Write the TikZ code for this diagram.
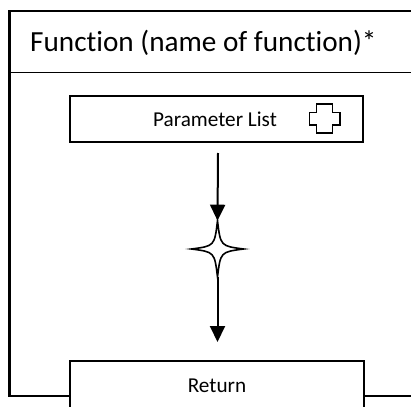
\documentclass[tikz,border=0pt]{standalone}
\usetikzlibrary{arrows.meta,calc}
\usepackage{fontspec}
\setmainfont{Carlito}[RawFeature={-liga}]
\begin{document}
\begin{tikzpicture}[x=1pt,y=-1pt,
  frame/.style={line width=2.7pt,line cap=rect},
  arr/.style={line width=2pt,-{Triangle[width=15pt,length=16pt]}},
  icon/.style={line width=1.3pt,line join=miter}]
\useasboundingbox (0,0) rectangle (411,406);
% outer frame
\draw[frame] (420,11) -- (9.5,11) -- (9.5,396) -- (70,396);
\draw[frame] (364,396) -- (420,396);
\draw[line width=1.6pt] (9,72.5) -- (420,72.5);
\node[anchor=base west,font=\fontsize{29.2}{34}\selectfont,inner sep=0pt] (title) at (30,52) {Function (name of function)*};
% parameter list box
\draw[line width=2pt] (70,96) rectangle (362.5,142);
\node[anchor=base,font=\fontsize{21.2}{25}\selectfont,inner sep=0pt] (param) at (215,127) {Parameter List};
% plus icon
\draw[icon] (316.7,104) -- (332.3,104) -- (332.3,112.7) -- (340,112.7) -- (340,125) -- (332.3,125) -- (332.3,133) -- (316.7,133) -- (316.7,125) -- (309.3,125) -- (309.3,112.7) -- (316.7,112.7) -- cycle;
% arrows and star
\coordinate (a1s) at (218,153);
\coordinate (startop) at (217.5,220.7);
\coordinate (starbot) at (217.5,277);
\coordinate (starc) at (217.5,249);
\draw[arr] (a1s) -- (startop);
\draw[line width=1.6pt,line join=miter]
  (startop) .. controls ($(starc)+(3,-3)$) .. ($(starc)+(26,0)$)
  .. controls ($(starc)+(3,3)$) .. (starbot)
  .. controls ($(starc)+(-3,3)$) .. ($(starc)+(-26,0)$)
  .. controls ($(starc)+(-3,-3)$) .. cycle;
% return box
\draw[line width=2pt] (70,420) -- (70,361) -- (364,361) -- (364,420);
\coordinate (rtop) at (217.5,342);
\draw[arr] (starbot) -- (rtop);
\node[anchor=base,font=\fontsize{21.2}{25}\selectfont,inner sep=0pt] (ret) at (217,392.7) {Return};
\end{tikzpicture}
\end{document}
